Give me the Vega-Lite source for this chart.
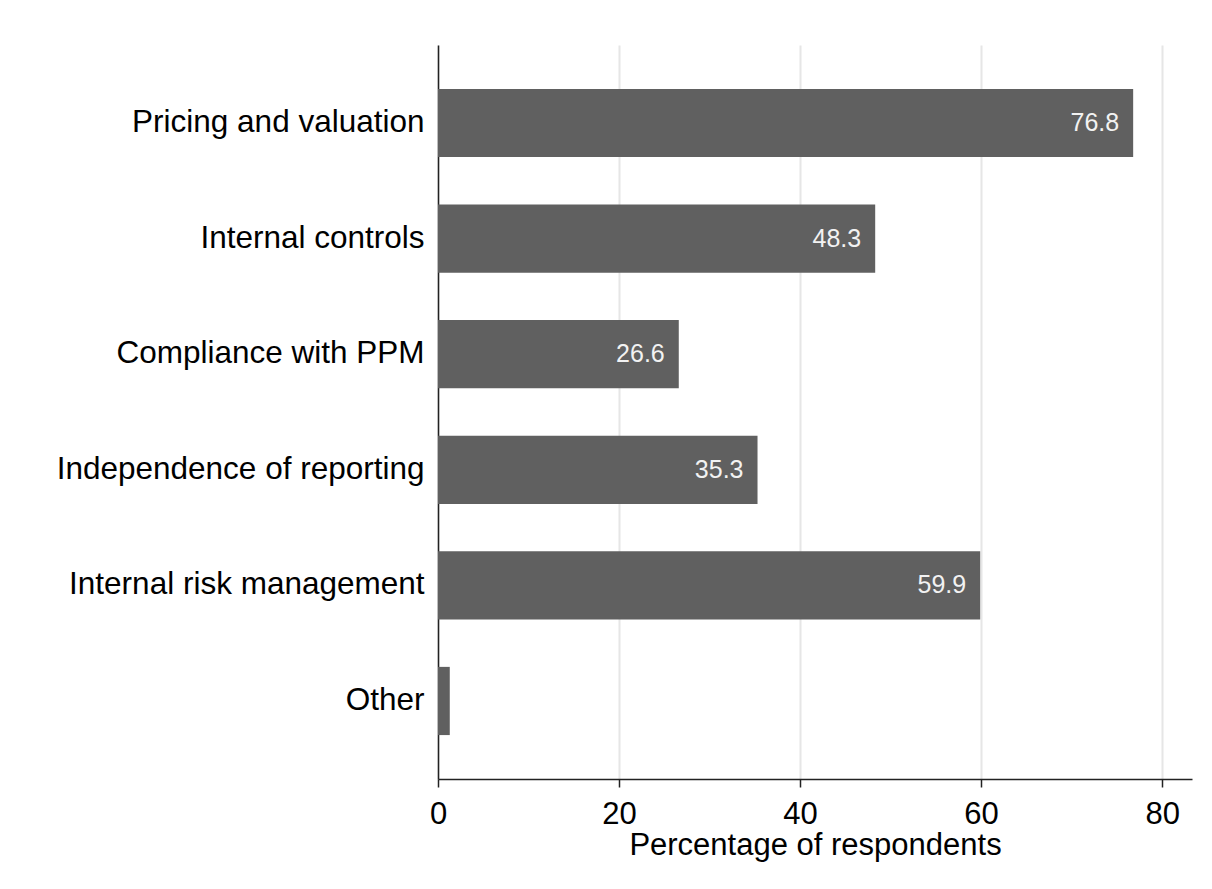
{
  "$schema": "https://vega.github.io/schema/vega-lite/v6.json",
  "autosize": "none",
  "width": 754,
  "height": 734,
  "padding": {"left": 438, "top": 45, "right": 20, "bottom": 110},
  "background": "white",
  "config": {"view": {"stroke": null}, "font": "Liberation Sans"},
  "data": {"values": [
    {"category": "Pricing and valuation", "value": 76.8},
    {"category": "Internal controls", "value": 48.3},
    {"category": "Compliance with PPM", "value": 26.6},
    {"category": "Independence of reporting", "value": 35.3},
    {"category": "Internal risk management", "value": 59.9},
    {"category": "Other", "value": 1.3}
  ]},
  "encoding": {
    "y": {"field": "category", "type": "nominal", "sort": null,
      "scale": {"paddingInner": 0.41, "paddingOuter": 0.38},
      "axis": {"title": null, "ticks": false, "labelFontSize": 31.5, "labelColor": "#000000", "labelPadding": 14, "domainColor": "#222222", "domainWidth": 1.5, "grid": false, "labelLimit": 500}},
    "x": {"field": "value", "type": "quantitative",
      "scale": {"domain": [0, 83.3], "nice": false, "zero": true},
      "axis": {"title": "Percentage of respondents", "values": [0, 20, 40, 60, 80], "titleFontSize": 31, "titleFontWeight": "normal", "titleColor": "#000000", "titlePadding": 1, "labelFontSize": 31, "labelColor": "#000000", "labelPadding": 12, "tickSize": 8, "tickColor": "#222222", "tickWidth": 1.5, "domainColor": "#222222", "domainWidth": 1.5, "grid": true, "gridColor": "#e6e6e6", "gridWidth": 2, "labelFlush": false}}
  },
  "layer": [
    {"mark": {"type": "bar", "color": "#606060"}},
    {"transform": [{"filter": "datum.value > 5"}],
     "mark": {"type": "text", "align": "right", "baseline": "middle", "dx": -14, "color": "#f2f2f2", "fontSize": 25},
     "encoding": {"text": {"field": "value", "type": "quantitative", "format": ".1f"}}}
  ]
}
